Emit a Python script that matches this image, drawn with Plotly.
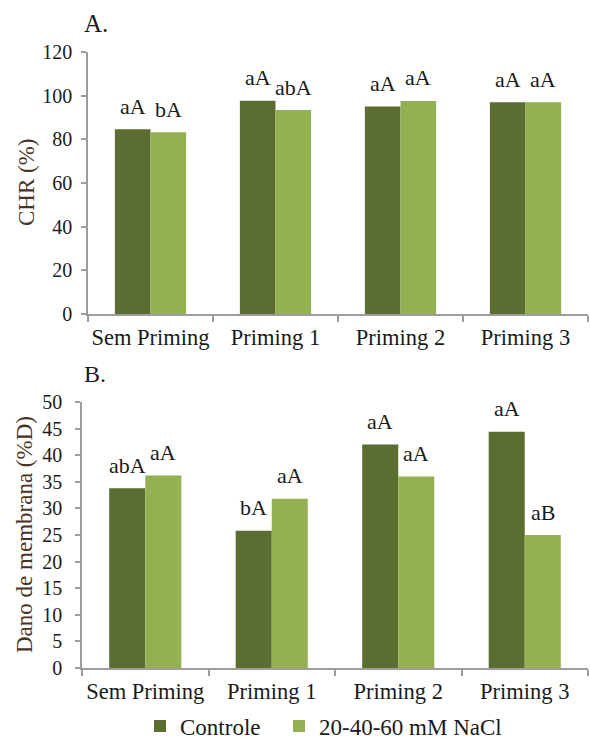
import plotly.graph_objects as go

# Treatments and series
categories = ["Sem Priming", "Priming 1", "Priming 2", "Priming 3"]
series_names = ["Controle", "20-40-60 mM NaCl"]

# Panel A: CHR (%)
chr_controle = [84.6, 97.7, 95.0, 97.0]
chr_nacl = [83.2, 93.4, 97.6, 97.0]
chr_letters_controle = ["aA", "aA", "aA", "aA"]
chr_letters_nacl = ["bA", "abA", "aA", "aA"]

# Panel B: membrane damage (%D)
dano_controle = [33.8, 25.8, 42.0, 44.4]
dano_nacl = [36.2, 31.8, 36.0, 25.0]
dano_letters_controle = ["abA", "bA", "aA", "aA"]
dano_letters_nacl = ["aA", "aA", "aA", "aB"]

W, H = 590, 742
DARK = "#5B6D31"
LIGHT = "#93B052"
AXIS = "#9c9c9c"
TXT = "#1a1a1a"
TITLE_C = "#4a3322"
FONT = "'Liberation Serif', 'Times New Roman', 'DejaVu Serif', serif"
BARGAP = 0.43

fig = go.Figure()

panels = [
    ("x", "y", chr_controle, chr_nacl, chr_letters_controle, chr_letters_nacl, True),
    ("x2", "y2", dano_controle, dano_nacl, dano_letters_controle, dano_letters_nacl, False),
]

for xa, ya, ctrl, nacl, lc, ln, show in panels:
    fig.add_trace(go.Bar(x=categories, y=ctrl, name=series_names[0], marker_color=DARK,
                         marker_line_width=0, xaxis=xa, yaxis=ya, showlegend=show,
                         legend="legend"))
    fig.add_trace(go.Bar(x=categories, y=nacl, name=series_names[1], marker_color=LIGHT,
                         marker_line_width=0, xaxis=xa, yaxis=ya, showlegend=show,
                         legend="legend2"))
    off = (1 - BARGAP) / 4
    for i in range(len(categories)):
        for sign, val, lab in ((-1, ctrl[i], lc[i]), (1, nacl[i], ln[i])):
            fig.add_annotation(x=i + sign * off, y=val, xref=xa, yref=ya, text=lab,
                               showarrow=False, yanchor="middle", yshift=23,
                               font=dict(family=FONT, size=22, color=TXT))


def px_x(p):
    return p / W


def px_y(p):
    return 1 - p / H


common_x = dict(type="category", showline=True, linecolor=AXIS, linewidth=1.5,
                ticks="outside", tickson="boundaries", ticklen=6, tickcolor=AXIS,
                tickwidth=1.5, showgrid=False, automargin=False, range=[-0.5, 3.5],
                tickangle=0, ticklabelstandoff=2,
                tickfont=dict(family=FONT, size=22.5, color=TXT), fixedrange=True)
common_y = dict(showline=True, linecolor=AXIS, linewidth=1.5, ticks="outside",
                ticklen=5, tickcolor=AXIS, tickwidth=1.5, showgrid=False,
                zeroline=False, automargin=False,
                tickfont=dict(family=FONT, size=20, color=TXT))

legend_style = dict(orientation="h", xanchor="left", yanchor="middle", y=px_y(726),
                    font=dict(family=FONT, size=23, color=TXT),
                    itemwidth=30, bgcolor="rgba(0,0,0,0)")

fig.update_layout(
    width=W, height=H,
    margin=dict(l=0, r=0, t=0, b=0, autoexpand=False),
    paper_bgcolor="white", plot_bgcolor="white",
    barmode="group", bargap=BARGAP, bargroupgap=0,
    font=dict(family=FONT, color=TXT),
    xaxis=dict(domain=[px_x(88), px_x(588)], anchor="y", **common_x),
    yaxis=dict(domain=[px_y(314), px_y(52)], anchor="x", range=[0, 120], dtick=20,
               ticklabelstandoff=5, **common_y),
    xaxis2=dict(domain=[px_x(82), px_x(588)], anchor="y2", **common_x),
    yaxis2=dict(domain=[px_y(668), px_y(402)], anchor="x2", range=[0, 50], dtick=5,
                ticklabelstandoff=9, **common_y),
    legend=dict(x=px_x(140), **legend_style),
    legend2=dict(x=px_x(279), **legend_style),
)

# Panel letters and axis titles
fig.add_annotation(x=px_x(82), y=px_y(23), xref="paper", yref="paper", text="A.",
                   showarrow=False, xanchor="left", yanchor="middle",
                   font=dict(family=FONT, size=25, color=TXT))
fig.add_annotation(x=px_x(82), y=px_y(374), xref="paper", yref="paper", text="B.",
                   showarrow=False, xanchor="left", yanchor="middle",
                   font=dict(family=FONT, size=24, color=TXT))
fig.add_annotation(x=px_x(27), y=px_y(182), xref="paper", yref="paper", text="CHR (%)",
                   textangle=-90, showarrow=False, xanchor="center", yanchor="middle",
                   font=dict(family=FONT, size=23, color=TITLE_C))
fig.add_annotation(x=px_x(24), y=px_y(535), xref="paper", yref="paper",
                   text="Dano de membrana (%D)", textangle=-90, showarrow=False,
                   xanchor="center", yanchor="middle",
                   font=dict(family=FONT, size=23, color=TITLE_C))

fig.write_html("out.html")
